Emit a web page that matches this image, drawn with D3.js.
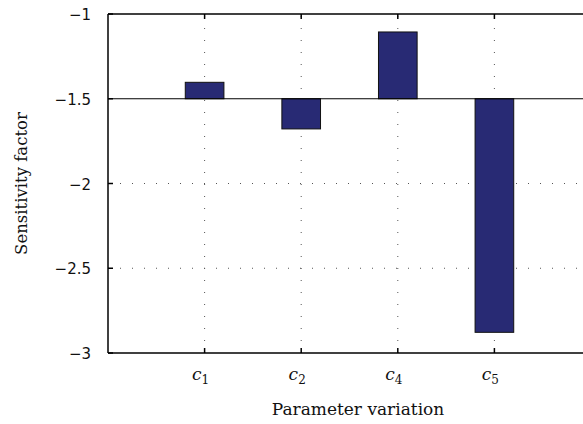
<!DOCTYPE html>
<html>
<head>
<meta charset="utf-8">
<script src="https://cdn.jsdelivr.net/npm/d3@7"></script>
<style>
  body { margin: 0; background: #fff; }
  svg { display: block; }
</style>
</head>
<body>
<svg id="chart"></svg>
<script>
const width = 583
const height = 424

// parameters and their sensitivity factors (bars drawn from the -1.5 baseline)
const params = ['1', '2', '4', '5']
const factors = [-1.403, -1.678, -1.106, -2.878]
const baseline = -1.5
const yTicks = [-3, -2.5, -2, -1.5, -1]
const yTickLabels = ['\u22123', '\u22122.5', '\u22122', '\u22121.5', '\u22121']

const margin = { top: 14, left: 108, bottom: 71 }
const plotRight = 591

const svg = d3.select('#chart').attr('width', width).attr('height', height)

const x = d3.scaleLinear().domain([0, 5]).range([margin.left, plotRight])
const y = d3.scaleLinear().domain([-3, -1]).range([height - margin.bottom, margin.top])
const bw = (x(1) - x(0)) * 0.4

const plot = svg.append('g')

// dotted grid
plot.selectAll('.gx')
  .data(params)
  .join('line')
  .attr('x1', (d, i) => x(i + 1))
  .attr('x2', (d, i) => x(i + 1))
  .attr('y1', y(-3))
  .attr('y2', y(-1))
  .attr('stroke', '#555')
  .attr('stroke-width', 1)
  .attr('stroke-dasharray', '1,11')

plot.selectAll('.gy')
  .data([-2.5, -2])
  .join('line')
  .attr('x1', x(0))
  .attr('x2', plotRight)
  .attr('y1', (d) => y(d))
  .attr('y2', (d) => y(d))
  .attr('stroke', '#555')
  .attr('stroke-width', 1)
  .attr('stroke-dasharray', '1,11')

// bars
plot.selectAll('rect')
  .data(factors)
  .join('rect')
  .attr('x', (d, i) => x(i + 1) - bw / 2)
  .attr('width', bw)
  .attr('y', (d) => y(Math.max(d, baseline)))
  .attr('height', (d) => Math.abs(y(d) - y(baseline)))
  .attr('fill', '#282a74')
  .attr('stroke', '#111')
  .attr('stroke-width', 1)

// baseline
plot.append('line')
  .attr('x1', x(0))
  .attr('x2', plotRight)
  .attr('y1', y(baseline))
  .attr('y2', y(baseline))
  .attr('stroke', '#000')
  .attr('stroke-width', 1.2)

// axes box (right side is off screen)
const axisG = svg.append('g').attr('stroke', '#000').attr('stroke-width', 1.5)
axisG.append('line').attr('x1', x(0)).attr('x2', plotRight).attr('y1', y(-1)).attr('y2', y(-1))
axisG.append('line').attr('x1', x(0)).attr('x2', plotRight).attr('y1', y(-3)).attr('y2', y(-3))
axisG.append('line').attr('x1', x(0)).attr('x2', x(0)).attr('y1', y(-1)).attr('y2', y(-3))

// inward ticks
yTicks.forEach(function (t) {
  axisG.append('line').attr('x1', x(0)).attr('x2', x(0) + 5).attr('y1', y(t)).attr('y2', y(t))
})
params.forEach(function (p, i) {
  axisG.append('line').attr('x1', x(i + 1)).attr('x2', x(i + 1)).attr('y1', y(-3)).attr('y2', y(-3) - 5)
  axisG.append('line').attr('x1', x(i + 1)).attr('x2', x(i + 1)).attr('y1', y(-1)).attr('y2', y(-1) + 5)
})

// y tick labels
svg.selectAll('.ylab')
  .data(yTicks)
  .join('text')
  .attr('x', x(0) - 17)
  .attr('y', (d) => y(d) + 6)
  .attr('text-anchor', 'end')
  .attr('font-family', 'DejaVu Sans, sans-serif')
  .attr('font-size', 15)
  .attr('fill', '#111')
  .text((d, i) => yTickLabels[i])

// x tick labels c_i
const xl = svg.selectAll('.xlab')
  .data(params)
  .join('text')
  .attr('x', (d, i) => x(i + 1) - 4)
  .attr('y', y(-3) + 27)
  .attr('text-anchor', 'middle')
  .attr('font-family', 'DejaVu Serif, serif')
  .attr('fill', '#111')
xl.append('tspan').attr('font-style', 'italic').attr('font-size', 17).text('c')
xl.append('tspan').attr('font-size', 12).attr('dy', 4).text((d) => d)

// axis titles
svg.append('text')
  .attr('x', 358)
  .attr('y', 415)
  .attr('text-anchor', 'middle')
  .attr('font-family', 'DejaVu Serif, serif')
  .attr('font-size', 17)
  .attr('fill', '#111')
  .text('Parameter variation')

svg.append('text')
  .attr('transform', 'translate(27,' + y(-2) + ') rotate(-90)')
  .attr('text-anchor', 'middle')
  .attr('font-family', 'DejaVu Serif, serif')
  .attr('font-size', 16.5)
  .attr('fill', '#111')
  .text('Sensitivity factor')
</script>
</body>
</html>
